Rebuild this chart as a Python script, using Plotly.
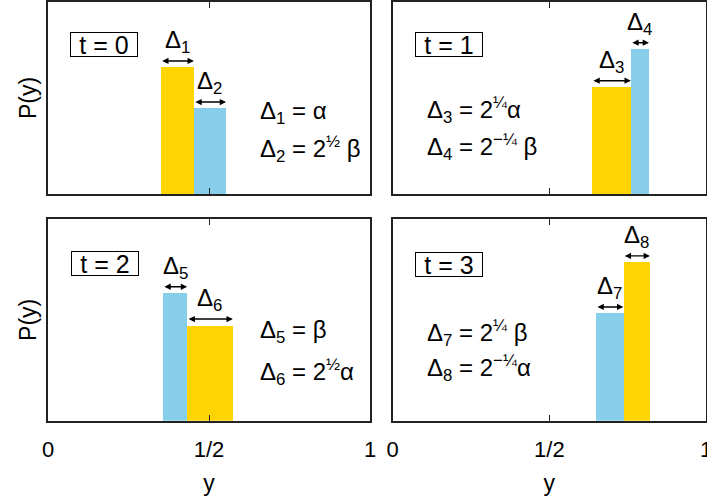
import plotly.graph_objects as go

# ---- data ----
panels = ["t = 0", "t = 1", "t = 2", "t = 3"]
# bar left edges, widths, heights, colour keys per panel
bar_left = [[0.350, 0.453], [0.636, 0.760], [0.357, 0.432], [0.649, 0.736]]
bar_width = [[0.103, 0.100], [0.124, 0.058], [0.075, 0.142], [0.087, 0.085]]
bar_height = [[0.663, 0.449], [0.559, 0.757], [0.633, 0.469], [0.532, 0.788]]
bar_color = [["gold", "blue"], ["gold", "blue"], ["blue", "gold"], ["blue", "gold"]]
bar_labels = [["Δ<sub>1</sub>", "Δ<sub>2</sub>"], ["Δ<sub>3</sub>", "Δ<sub>4</sub>"],
              ["Δ<sub>5</sub>", "Δ<sub>6</sub>"], ["Δ<sub>7</sub>", "Δ<sub>8</sub>"]]
equations = [
    ["Δ<sub>1</sub> = α", "Δ<sub>2</sub> = 2<sup>½</sup> β"],
    ["Δ<sub>3</sub> = 2<sup>¼</sup>α", "Δ<sub>4</sub> = 2<sup>−¼</sup> β"],
    ["Δ<sub>5</sub> = β", "Δ<sub>6</sub> = 2<sup>½</sup>α"],
    ["Δ<sub>7</sub> = 2<sup>¼</sup> β", "Δ<sub>8</sub> = 2<sup>−¼</sup>α"],
]
eq_pos = [[(0.652, 0.427), (0.652, 0.234)], [(0.103, 0.4375), (0.103, 0.245)],
          [(0.652, 0.441), (0.652, 0.243)], [(0.103, 0.435), (0.103, 0.261)]]
arrow_y = [[0.693, 0.479], [0.590, 0.788], [0.664, 0.504], [0.564, 0.817]]
box_pos = [(0.174, 0.779), (0.179, 0.78), (0.177, 0.777), (0.18, 0.775)]
x_ticks = [0, 0.5, 1]
x_ticklabels = ["0", "1/2", "1"]

colors = {"gold": "#FFD400", "blue": "#87CEEB"}
FONT = "Liberation Sans, Arial, sans-serif"
FS = 24      # annotation text
FS_TICK = 22
FS_TITLE = 23

W, H = 707, 501
xdom = [[48 / W, 370 / W], [392.7 / W, 706 / W]]
ydom = [[(H - 420.7) / H, (H - 219) / H], [(H - 194) / H, (H - 2) / H]]

fig = go.Figure()
annotations = []
for i in range(4):
    row = i // 2  # 0 top
    col = i % 2
    n = i + 1
    xa = "x" if n == 1 else f"x{n}"
    ya = "y" if n == 1 else f"y{n}"
    for j in range(2):
        left = bar_left[i][j]
        w = bar_width[i][j]
        fig.add_trace(go.Bar(
            x=[left + w / 2], y=[bar_height[i][j]], width=[w],
            marker=dict(color=colors[bar_color[i][j]], line=dict(width=0)),
            xaxis=xa, yaxis=ya, showlegend=False, hoverinfo="skip"))
        # double arrow
        annotations.append(dict(
            x=left + w, y=arrow_y[i][j], ax=left, ay=arrow_y[i][j],
            xref=xa, yref=ya, axref=xa, ayref=ya, text="", showarrow=True,
            arrowhead=2, startarrowhead=2, arrowside="end+start",
            arrowsize=0.9, startarrowsize=0.9, arrowwidth=1.4, arrowcolor="black"))
        annotations.append(dict(
            x=left + w / 2, y=arrow_y[i][j], xref=xa, yref=ya,
            text=bar_labels[i][j], showarrow=False, yanchor="bottom", yshift=2,
            font=dict(family=FONT, size=FS, color="black")))
        ex, ey = eq_pos[i][j]
        annotations.append(dict(
            x=ex, y=ey, xref=xa, yref=ya, text=equations[i][j], showarrow=False,
            xanchor="left", yanchor="middle",
            font=dict(family=FONT, size=FS, color="black")))
    bx, by = box_pos[i]
    annotations.append(dict(
        x=bx, y=by, xref=xa, yref=ya, text=panels[i], showarrow=False,
        bordercolor="black", borderwidth=1, borderpad=0, bgcolor="white",
        width=66, height=23,
        font=dict(family=FONT, size=25, color="black")))

    axis_common = dict(showline=True, mirror="ticks", linecolor="#222", linewidth=1.5,
                       showgrid=False, zeroline=False, automargin=False)
    xkw = dict(axis_common, domain=xdom[col], range=[0, 1], anchor=ya,
               tickmode="array", tickvals=x_ticks, ticktext=x_ticklabels,
               ticks="inside", ticklen=6, tickcolor="#222", tickwidth=1,
               showticklabels=(row == 1), ticklabelstandoff=8,
               ticklabeloverflow="allow",
               tickfont=dict(family=FONT, size=FS_TICK, color="black"))
    if row == 1:
        xkw["title"] = dict(text="y", font=dict(family=FONT, size=FS_TITLE, color="black"), standoff=14)
    ykw = dict(axis_common, domain=ydom[1 - row], range=[0, 1], anchor=xa,
               showticklabels=False, ticks="")
    if col == 0:
        ykw["title"] = dict(text="P(y)", font=dict(family=FONT, size=FS_TITLE, color="black"), standoff=3)
    fig.layout["xaxis" if n == 1 else f"xaxis{n}"] = xkw
    fig.layout["yaxis" if n == 1 else f"yaxis{n}"] = ykw

fig.update_layout(
    width=W, height=H, margin=dict(l=0, r=0, t=0, b=0),
    paper_bgcolor="white", plot_bgcolor="white", bargap=0,
    annotations=annotations, showlegend=False,
    font=dict(family=FONT, size=FS, color="black"))

fig.write_html("out.html", config={"displayModeBar": False},
               post_script="document.body.style.margin='0';document.body.style.overflow='hidden';")
